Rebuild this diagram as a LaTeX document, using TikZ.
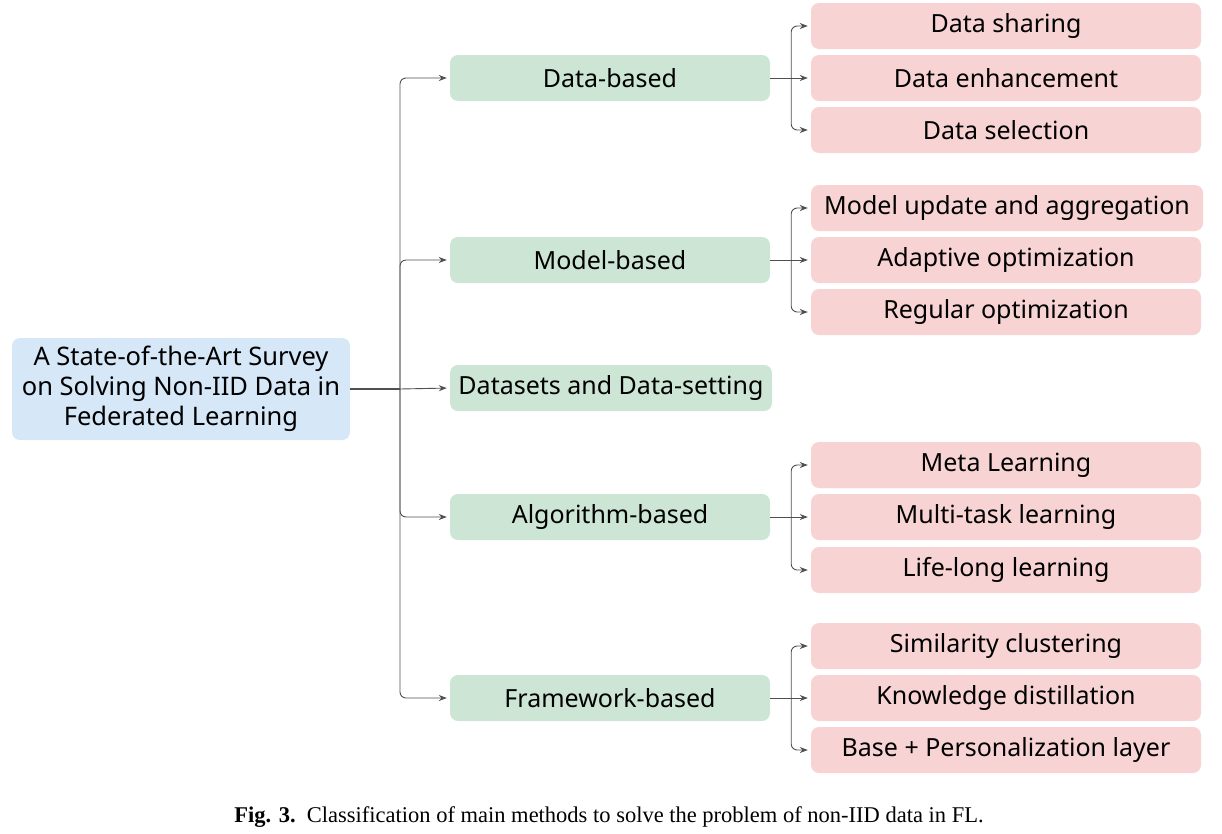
\documentclass[tikz,border=0pt]{standalone}
\usepackage{fontspec}
\setmainfont{Noto Sans}
\newfontfamily\capfont{Liberation Serif}
\usetikzlibrary{arrows.meta}

\definecolor{rootblue}{RGB}{214,231,247}
\definecolor{catgreen}{RGB}{204,229,212}
\definecolor{leafpink}{RGB}{248,211,211}
\definecolor{wire}{RGB}{80,80,80}

\tikzset{
  rootbox/.style={fill=rootblue, rounded corners=8pt, minimum width=338pt,
    minimum height=102pt, align=center, font=\fontsize{25.5}{30}\selectfont},
  catbox/.style={fill=catgreen, rounded corners=8pt, minimum width=320pt,
    minimum height=46pt, font=\fontsize{25}{30}\selectfont},
  leafbox/.style={fill=leafpink, rounded corners=8pt, minimum width=390pt,
    minimum height=46pt, font=\fontsize{25}{30}\selectfont},
  wireline/.style={draw=wire, line width=0.9pt, rounded corners=6pt},
  wirearrow/.style={wireline, -{Stealth[length=8pt,width=6pt]}, shorten >=3pt}
}

\begin{document}
\begin{tikzpicture}[x=1pt, y=-1pt]
  \useasboundingbox (0,0) rectangle (1222,833);

  % Racine
  \node[rootbox] (root) at (181,389) {A State-of-the-Art Survey\\on Solving Non-IID Data in\\Federated Learning};

  % Catégories
  \node[catbox] (data) at (610,78) {Data-based};
  \node[catbox] (model) at (610,260) {Model-based};
  \node[catbox, minimum width=322pt] (sets) at (611,388) {Datasets and Data-setting};
  \node[catbox] (algo) at (610,517) {Algorithm-based};
  \node[catbox] (frame) at (610,698) {Framework-based};

  % Méthodes
  \node[leafbox] (share) at (1006,26) {Data sharing};
  \node[leafbox] (enh) at (1006,78) {Data enhancement};
  \node[leafbox] (sel) at (1006,130) {Data selection};

  \node[leafbox, minimum width=392pt] (upd) at (1007,208) {Model update and aggregation};
  \node[leafbox] (adapt) at (1006,260) {Adaptive optimization};
  \node[leafbox] (reg) at (1006,312) {Regular optimization};

  \node[leafbox] (meta) at (1006,465) {Meta Learning};
  \node[leafbox] (multi) at (1006,517) {Multi-task learning};
  \node[leafbox] (life) at (1006,570) {Life-long learning};

  \node[leafbox] (sim) at (1006,646) {Similarity clustering};
  \node[leafbox] (know) at (1006,698) {Knowledge distillation};
  \node[leafbox] (base) at (1006,750) {Base + Personalization layer};

  % Tronc principal
  \coordinate (trunk) at (400,389);
  \draw[wireline, line width=1.6pt] (root.east) -- (trunk);
  \draw[wirearrow] (trunk) |- (data.west);
  \draw[wirearrow] (trunk) |- (model.west);
  \draw[wirearrow] (trunk) -- (sets.west);
  \draw[wirearrow] (trunk) |- (algo.west);
  \draw[wirearrow] (trunk) |- (frame.west);

  % Branches
  \draw[wireline] (data.east) -- ++(21,0) coordinate (dj);
  \draw[wirearrow] (dj) |- (share.west);
  \draw[wirearrow] (dj) -- (enh.west);
  \draw[wirearrow] (dj) |- (sel.west);

  \draw[wireline] (model.east) -- ++(21,0) coordinate (mj);
  \draw[wirearrow] (mj) |- (upd.west);
  \draw[wirearrow] (mj) -- (adapt.west);
  \draw[wirearrow] (mj) |- (reg.west);

  \draw[wireline] (algo.east) -- ++(21,0) coordinate (aj);
  \draw[wirearrow] (aj) |- (meta.west);
  \draw[wirearrow] (aj) -- (multi.west);
  \draw[wirearrow] (aj) |- (life.west);

  \draw[wireline] (frame.east) -- ++(21,0) coordinate (fj);
  \draw[wirearrow] (fj) |- (sim.west);
  \draw[wirearrow] (fj) -- (know.west);
  \draw[wirearrow] (fj) |- (base.west);

  % Légende
  \node[font=\capfont\fontsize{22.5}{26}\selectfont] (caption) at (609,817)
    {\textbf{Fig. 3.}\ \ Classification of main methods to solve the problem of non-IID data in FL.};
\end{tikzpicture}
\end{document}
